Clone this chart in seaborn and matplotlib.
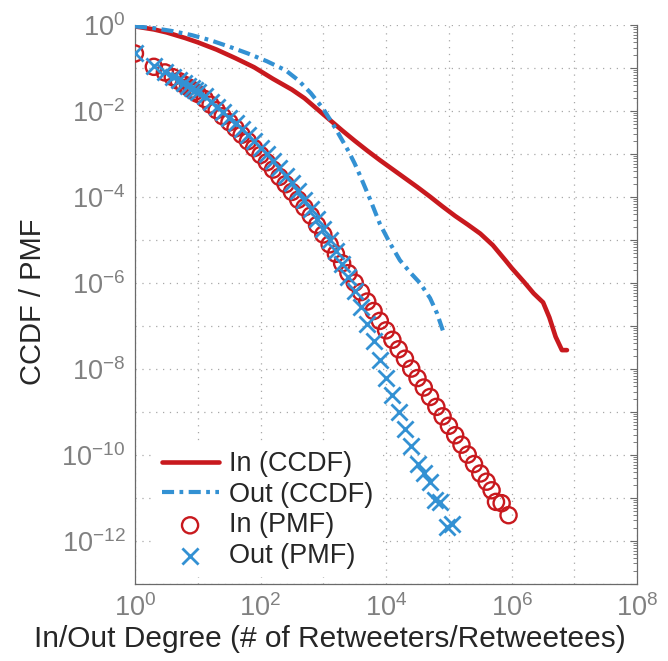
import numpy as np
import pandas as pd
import matplotlib
matplotlib.use("Agg")
import matplotlib.pyplot as plt
from matplotlib.ticker import LogLocator, FixedLocator, FuncFormatter, NullFormatter
import seaborn as sns

# ---- degree distributions (values read on log-log axes) ----
# PMF of in-degree: degrees and log10(probability)
in_pmf_deg = [1, 2, 3, 4, 5, 6, 7, 8, 9, 10,
              13, 16, 20, 25, 32, 40, 50, 63, 79,
              100, 126, 158, 200, 251, 316, 398, 501, 631, 794,
              1000, 1259, 1585, 1995, 2512, 3162, 3981, 5012, 6310, 7943,
              10000, 12589, 15849, 19953, 25119, 31623, 39811, 50119, 63096, 79433,
              100000, 125893, 158489, 199526, 251189, 316228, 398107,
              478630, 562341, 691831, 891251]
in_pmf_log_p = [-0.66, -0.97, -1.10, -1.21, -1.30, -1.38, -1.44, -1.50, -1.55, -1.60,
                -1.72, -1.85, -1.98, -2.12, -2.26, -2.40, -2.55, -2.70, -2.86,
                -3.02, -3.19, -3.36, -3.53, -3.70, -3.88, -4.06, -4.24, -4.43, -4.65,
                -4.87, -5.10, -5.32, -5.54, -5.77, -5.99, -6.21, -6.43, -6.65, -6.88,
                -7.10, -7.32, -7.54, -7.76, -7.99, -8.21, -8.43, -8.65, -8.88, -9.10,
                -9.32, -9.54, -9.76, -9.99, -10.21, -10.43, -10.62,
                -10.82, -11.09, -11.12, -11.40]

# PMF of out-degree
out_pmf_deg = [1, 2, 3, 4, 5, 6, 7, 8, 9, 10,
               13, 16, 20, 25, 32, 40, 50, 63, 79,
               100, 126, 158, 200, 251, 316, 398, 501, 631, 794,
               1000, 1259, 1585, 1995, 2512, 3162, 3981, 5012, 6310, 7943,
               10000, 12589, 15849, 19953, 25119, 31623, 39811, 50119,
               60256, 72444, 93325, 112202]
out_pmf_log_p = [-0.66, -0.96, -1.10, -1.20, -1.28, -1.35, -1.41, -1.46, -1.51, -1.55,
                 -1.66, -1.78, -1.90, -2.02, -2.15, -2.28, -2.42, -2.56, -2.70,
                 -2.85, -3.00, -3.16, -3.33, -3.50, -3.68, -3.87, -4.07, -4.28, -4.50,
                 -4.74, -4.99, -5.26, -5.55, -5.86, -6.18, -6.55, -6.95, -7.35, -7.78,
                 -8.20, -8.60, -9.00, -9.40, -9.80, -10.20, -10.42, -10.62,
                 -11.05, -11.09, -11.67, -11.60]

# CCDF of in-degree
in_ccdf_deg = [1, 2, 3.2, 6.3, 10, 20, 40, 79, 158, 316, 501, 794, 1259, 1995,
               3162, 5012, 7943, 12589, 19953, 31623, 50119, 79433, 125893,
               199526, 316228, 501187, 794328, 1000000, 1584893, 2238721,
               3162278, 3981072, 5011872, 6309573, 7585776]
in_ccdf_log_p = [-0.03, -0.10, -0.17, -0.30, -0.40, -0.57, -0.77, -0.98, -1.25, -1.50,
                 -1.70, -1.95, -2.20, -2.45, -2.69, -2.92, -3.14, -3.35, -3.56, -3.77,
                 -3.99, -4.22, -4.44, -4.64, -4.85, -5.12, -5.47, -5.65, -5.98, -6.24,
                 -6.45, -6.80, -7.25, -7.56, -7.56]

# CCDF of out-degree
out_ccdf_deg = [1, 2, 4, 7.9, 15.8, 31.6, 63.1, 126, 251, 398, 631, 1000, 1259, 1585,
                2512, 3162, 3981, 5623, 7943, 11482, 16596, 25119, 34674, 50119,
                64565, 81283]
out_ccdf_log_p = [-0.03, -0.07, -0.14, -0.23, -0.35, -0.50, -0.66, -0.84, -1.05, -1.28,
                  -1.58, -1.95, -2.18, -2.42, -2.93, -3.22, -3.55, -4.07, -4.62, -5.07,
                  -5.47, -5.78, -6.00, -6.35, -6.70, -7.13]

legend_labels = ["In (CCDF)", "Out (CCDF)", "In (PMF)", "Out (PMF)"]

# decade ticks inside the axis ranges
x_decades = [1e0, 1e1, 1e2, 1e3, 1e4, 1e5, 1e6, 1e7, 1e8]
y_decades = [1e-13, 1e-12, 1e-11, 1e-10, 1e-9, 1e-8, 1e-7, 1e-6, 1e-5,
             1e-4, 1e-3, 1e-2, 1e-1, 1e0]

RED = "#C8191E"
BLUE = "#3391D3"
TICK_GREY = "#808080"
AXIS_GREY = "#6a6a6a"

def frame(deg, log_p):
    return pd.DataFrame({"degree": np.asarray(deg, dtype=float),
                         "p": 10.0 ** np.asarray(log_p, dtype=float)})

in_pmf = frame(in_pmf_deg, in_pmf_log_p)
out_pmf = frame(out_pmf_deg, out_pmf_log_p)
in_ccdf = frame(in_ccdf_deg, in_ccdf_log_p)
out_ccdf = frame(out_ccdf_deg, out_ccdf_log_p)

sns.set_style("white")
plt.rcParams["font.family"] = ["Liberation Sans", "DejaVu Sans"]
plt.rcParams["mathtext.fontset"] = "custom"
plt.rcParams["mathtext.rm"] = "Liberation Sans"

fig = plt.figure(figsize=(6.68, 6.61), dpi=100)
ax = fig.add_axes([0.202, 0.1165, 0.752, 0.8455])
ax.set_xscale("log")
ax.set_yscale("log")

sns.scatterplot(data=in_pmf, x="degree", y="p", ax=ax, marker="o", s=135,
                color=RED, facecolors="none", edgecolor=RED, linewidth=1.7,
                label=legend_labels[2], zorder=3)
sns.scatterplot(data=out_pmf, x="degree", y="p", ax=ax, marker="x", s=135,
                color=BLUE, linewidth=2.0, label=legend_labels[3], zorder=4)
sns.lineplot(data=in_ccdf, x="degree", y="p", ax=ax, color=RED, linewidth=3.3,
             estimator=None, sort=False, label=legend_labels[0], zorder=5)
sns.lineplot(data=out_ccdf, x="degree", y="p", ax=ax, color=BLUE, linewidth=3.0,
             linestyle=(0, (2.9, 1.3, 0.9, 1.3)), estimator=None, sort=False,
             label=legend_labels[1], zorder=6)

ax.set_xlim(1, 1e8)
ax.set_ylim(1e-13, 1)

def even_decades(v, pos):
    e = int(round(np.log10(v)))
    return r"$\mathregular{10^{%d}}$" % e if e % 2 == 0 else ""

for axis, decades in ((ax.xaxis, x_decades), (ax.yaxis, y_decades)):
    axis.set_major_locator(FixedLocator(decades))
    axis.set_minor_locator(LogLocator(base=10, subs=np.arange(2, 10), numticks=200))
    axis.set_major_formatter(FuncFormatter(even_decades))
    axis.set_minor_formatter(NullFormatter())

ax.grid(True, which="major", color="#a8a8a8", linewidth=0.9, linestyle=(0, (1, 4.5)))
ax.tick_params(which="both", direction="in", top=False, right=True,
               color=AXIS_GREY, labelcolor=TICK_GREY, labelsize=19.5)
ax.tick_params(which="major", length=5, width=0.8, pad=7)
ax.tick_params(which="minor", length=3, width=0.6)
for side in ("left", "bottom", "right"):
    ax.spines[side].set_color(AXIS_GREY)
    ax.spines[side].set_linewidth(0.9)
ax.spines["top"].set_visible(False)

ax.set_xlabel("In/Out Degree (# of Retweeters/Retweetees)", fontsize=21.5,
              va="center")
ax.xaxis.set_label_coords(0.3875, -0.099)
ax.set_ylabel("CCDF / PMF", fontsize=21)
ax.yaxis.set_label_coords(-0.175, 0.505)

handles, labels = ax.get_legend_handles_labels()
order = [labels.index(t) for t in legend_labels]
ax.legend([handles[i] for i in order], [labels[i] for i in order],
          loc="lower left", bbox_to_anchor=(0.01, -0.012), fontsize=19.5,
          frameon=True, facecolor="white", edgecolor="none", framealpha=1,
          handlelength=2.1, handletextpad=0.4, labelspacing=0.17,
          borderpad=0.3)

fig.savefig("out.png", dpi=100)
